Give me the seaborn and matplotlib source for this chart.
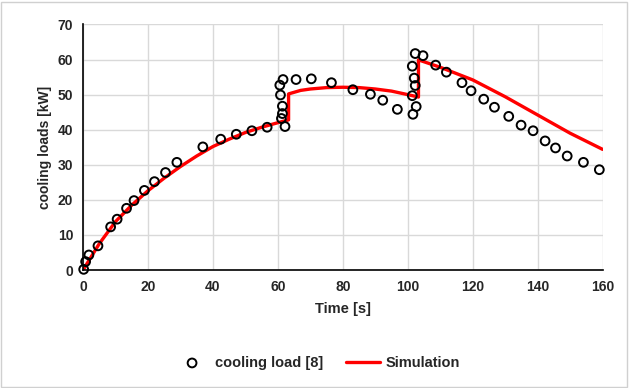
import pandas as pd
import seaborn as sns
import matplotlib.pyplot as plt
from matplotlib.patches import Rectangle

# Measured cooling load, reference [8]
meas_t = [0.2, 0.8, 1.8, 4.6, 8.5, 10.5, 13.4, 15.7, 18.9, 22.0, 25.4, 28.9,
          36.9, 42.4, 47.2, 52.0, 56.7,
          60.6, 61.6, 60.8, 61.4, 61.4, 61.1, 62.2,
          65.6, 70.3, 76.5, 83.1, 88.5, 92.3, 96.8,
          102.3, 101.4, 102.0, 102.3, 101.4, 102.6, 101.6,
          104.7, 108.6, 111.9, 116.7, 119.5, 123.4, 126.7, 131.1, 134.9,
          138.6, 142.3, 145.5, 149.1, 154.1, 159.0]
meas_q = [0.2, 2.4, 4.3, 6.9, 12.3, 14.5, 17.6, 19.8, 22.7, 25.2, 27.8, 30.7,
          35.1, 37.3, 38.7, 39.7, 40.7,
          52.7, 54.3, 49.9, 46.7, 44.6, 43.2, 40.9,
          54.3, 54.5, 53.4, 51.4, 50.1, 48.4, 45.8,
          61.7, 58.1, 54.7, 52.6, 49.7, 46.6, 44.4,
          61.1, 58.4, 56.4, 53.4, 51.1, 48.7, 46.4, 43.8, 41.3,
          39.7, 36.8, 34.8, 32.5, 30.7, 28.6]

# Simulation curve
sim_t = [0, 2, 5, 10, 15, 20, 25, 30, 35, 40, 45, 50, 55, 60, 63.3,
         63.3, 67, 70, 75, 80, 85, 90, 95, 100, 103.3,
         103.3, 110, 120, 130, 140, 150, 160]
sim_q = [0, 3.0, 7.5, 13.8, 18.5, 22.6, 26.2, 29.5, 32.5, 35.2, 37.3, 39.2, 40.7, 42.0, 42.8,
         50.2, 51.2, 51.6, 52.0, 52.1, 52.0, 51.6, 51.0, 50.0, 49.3,
         59.9, 57.8, 54.2, 49.4, 44.2, 39.0, 34.4]

meas = pd.DataFrame({"t": meas_t, "q": meas_q})
sim = pd.DataFrame({"t": sim_t, "q": sim_q})

sns.set_style("white")
plt.rcParams["font.family"] = ["Liberation Sans", "DejaVu Sans"]
plt.rcParams["font.weight"] = "bold"

fig = plt.figure(figsize=(6.29, 3.88), dpi=100)
ax = fig.add_axes([0.132, 0.304, 0.826, 0.633])

sns.lineplot(data=sim, x="t", y="q", ax=ax, color="#ff0000", linewidth=2.4,
             estimator=None, sort=False, label="Simulation", zorder=2)
sns.scatterplot(data=meas, x="t", y="q", ax=ax, marker="o", s=40,
                facecolor="none", edgecolor="black", linewidth=1.4,
                label="cooling load [8]", zorder=3, clip_on=False)

ax.set_xlim(0, 160)
ax.set_ylim(0, 70)
ax.set_xticks(range(0, 161, 20))
ax.set_yticks(range(0, 71, 10))
ax.grid(True, color="#d9d9d9", linewidth=1)
ax.set_axisbelow(True)
for s in ["top", "right"]:
    ax.spines[s].set_visible(False)
for s in ["left", "bottom"]:
    ax.spines[s].set_color("black")
    ax.spines[s].set_linewidth(1.2)
ax.tick_params(axis="both", direction="out", length=4, width=1.2,
               color="black", labelsize=10, pad=3)
for lab in ax.get_xticklabels() + ax.get_yticklabels():
    lab.set_fontweight("bold")

ax.set_xlabel("Time [s]", fontsize=10.5, fontweight="bold", labelpad=6)
ax.set_ylabel("cooling loads [kW]", fontsize=10, fontweight="bold", labelpad=4)

handles, labels = ax.get_legend_handles_labels()
order = [labels.index("cooling load [8]"), labels.index("Simulation")]
ax.legend([handles[i] for i in order], [labels[i] for i in order],
          loc="center", bbox_to_anchor=(0.505, 0.065), bbox_transform=fig.transFigure,
          ncol=2, frameon=False, columnspacing=1.6, handlelength=2.3, handletextpad=0.4,
          prop={"weight": "bold", "size": 10.5})

fig.patches.append(Rectangle((0.002, 0.003), 0.995, 0.993, transform=fig.transFigure,
                             fill=False, edgecolor="#d0d0d0", linewidth=1))

fig.savefig("out.png", dpi=100)
